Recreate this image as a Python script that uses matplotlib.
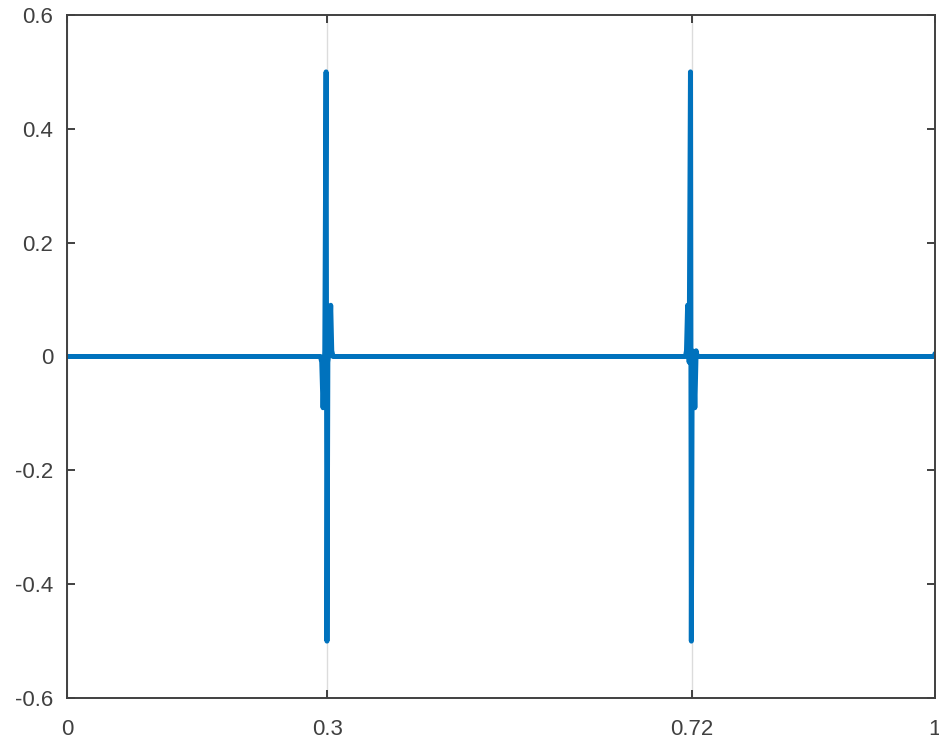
import numpy as np
import matplotlib.pyplot as plt

plt.rcParams['font.family'] = ['Liberation Sans', 'DejaVu Sans']

# signal samples (zero everywhere except two short bursts)
x_vals = [0.0,
          0.2920, 0.2935, 0.2950, 0.2970, 0.2985, 0.2995, 0.3005, 0.3020, 0.3038, 0.3050, 0.3065,
          0.7125, 0.7137, 0.7150, 0.7168, 0.7183, 0.7193, 0.7203, 0.7220, 0.7233, 0.7248, 0.7260,
          0.9990, 1.0]
y_vals = [0.0,
          0.0, -0.01, -0.09, 0.01, 0.5, -0.5, -0.01, 0.01, 0.09, 0.01, 0.0,
          0.0, 0.01, 0.09, -0.01, 0.5, -0.5, 0.01, -0.01, -0.09, 0.01, 0.0,
          0.0, 0.005]

x_ticks = [0, 0.3, 0.72, 1]
x_tick_labels = ['0', '0.3', '0.72', '1']
y_ticks = [-0.6, -0.4, -0.2, 0, 0.2, 0.4, 0.6]
y_tick_labels = ['-0.6', '-0.4', '-0.2', '0', '0.2', '0.4', '0.6']

fig = plt.figure(figsize=(9.39, 7.43), dpi=100)
ax = fig.add_axes([67 / 939, 45 / 743, 868 / 939, 683 / 743])

ax.plot(x_vals, y_vals, color='#0072BD', linewidth=3.6,
        solid_capstyle='round', solid_joinstyle='round')

ax.set_xlim(0, 1)
ax.set_ylim(-0.6, 0.6)
ax.set_xticks(x_ticks)
ax.set_xticklabels(x_tick_labels)
ax.set_yticks(y_ticks)
ax.set_yticklabels(y_tick_labels)

ax.xaxis.grid(True, color='#dcdcdc', linewidth=1.0)
ax.set_axisbelow(True)

for s in ax.spines.values():
    s.set_color('#404040')
    s.set_linewidth(1.4)

ax.tick_params(direction='in', length=6, width=1.4, color='#404040',
               labelcolor='#404040', labelsize=16,
               top=True, right=True)
ax.tick_params(axis='x', pad=15)
ax.tick_params(axis='y', pad=10)

fig.savefig('out.png', dpi=100)
